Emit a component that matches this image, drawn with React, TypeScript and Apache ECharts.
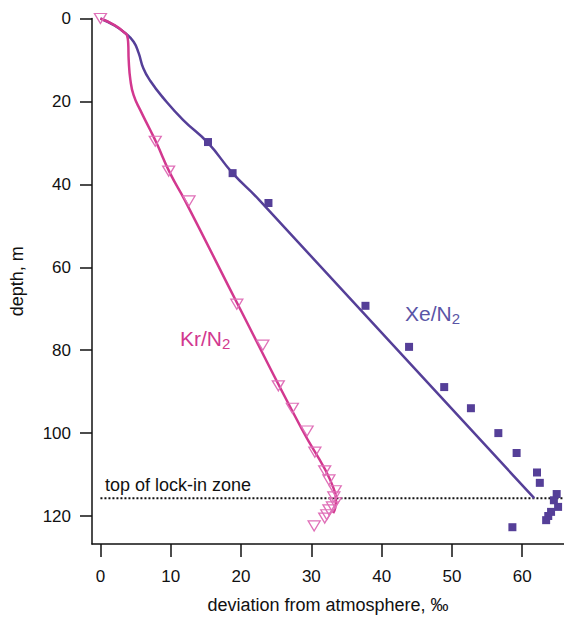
import React, { useEffect, useRef } from "react";
import * as echarts from "echarts";

// Model curves [deviation ‰, depth m]
const xeLine: number[][] = [
  [0, 0], [2, 1.7], [3.55, 3.57], [4.72, 5.6], [5.43, 8.3], [6.1, 12.0], [7.08, 15.0],
  [8.96, 19.2], [11.78, 24.5], [15.3, 30], [18.8, 37.3], [22.6, 43.8], [61.7, 115.7],
];
const krLine: number[][] = [
  [0, 0], [2, 1.6], [3.55, 3.57], [3.78, 4.0], [3.95, 6.0], [4.02, 10], [4.26, 14.8],
  [4.72, 18.5], [5.67, 22.1], [7.08, 26.9], [8.0, 30.1], [9.9, 37.3], [12.0, 43.8],
  [20, 70.5], [28.7, 99.2], [32, 108.9], [33.2, 113.5], [33.5, 116], [33.4, 118], [33.1, 119.3],
];
// Measurements
const xeData: number[][] = [
  [15.3, 29.8], [18.8, 37.3], [23.9, 44.5], [37.7, 69.3], [43.9, 79.2], [48.9, 88.9],
  [52.7, 94], [56.6, 100], [59.2, 104.8], [62.1, 109.5], [62.5, 112], [64.9, 114.7],
  [64.5, 116.2], [65.1, 117.8], [64.1, 119], [63.7, 120], [63.4, 121], [58.6, 122.7],
];
const krData: number[][] = [
  [0, 0], [7.8, 29.6], [9.7, 36.8], [12.6, 44], [19.4, 68.9], [23.1, 78.8], [25.3, 88.6],
  [27.3, 94], [29.4, 99.5], [30.5, 104.6], [31.9, 109.1], [32.5, 111.3], [33.4, 113.9],
  [33.2, 115.4], [33.4, 116.8], [33.0, 117.8], [32.5, 118.5], [32.2, 119.7], [31.9, 120.5],
  [30.4, 122.4],
];
const lockInDepth = 115.7;
const xTicks = [0, 10, 20, 30, 40, 50, 60];
const yTicks = [0, 20, 40, 60, 80, 100, 120];

const XE = "#553f98";
const KR = "#d2388f";
const KR_PT = "#e070b8";
const FONT = "Liberation Sans, Arial, Helvetica, sans-serif";

export default function App() {
  const ref = useRef<HTMLDivElement>(null);
  useEffect(() => {
    if (!ref.current) return;
    const chart = echarts.init(ref.current, undefined, { renderer: "svg" });
    chart.setOption({
      animation: false,
      backgroundColor: "#fff",
      textStyle: { fontFamily: FONT },
      grid: { left: 88, right: 0, top: 18.5, bottom: 75, containLabel: false },
      xAxis: {
        type: "value",
        min: -1.2,
        max: 65.94,
        name: "deviation from atmosphere, ‰",
        nameLocation: "middle",
        nameGap: 52,
        nameTextStyle: { fontSize: 18, color: "#111", fontFamily: FONT },
        axisLine: { show: true, onZero: false, lineStyle: { color: "#111", width: 1.5 } },
        axisTick: { show: true, length: 13, customValues: xTicks, lineStyle: { color: "#111", width: 1.5 } },
        axisLabel: { customValues: xTicks, margin: 24, fontSize: 17, color: "#111", fontFamily: FONT },
        splitLine: { show: false },
      },
      yAxis: {
        type: "value",
        inverse: true,
        min: 0,
        max: 126.75,
        name: "depth, m",
        nameLocation: "middle",
        nameGap: 66,
        nameRotate: 90,
        nameTextStyle: { fontSize: 18, color: "#111", fontFamily: FONT },
        axisLine: { show: true, onZero: false, lineStyle: { color: "#111", width: 1.5 } },
        axisTick: { show: true, length: 12, customValues: yTicks, lineStyle: { color: "#111", width: 1.5 } },
        axisLabel: { customValues: yTicks, margin: 21, fontSize: 17, color: "#111", fontFamily: FONT },
        splitLine: { show: false },
      },
      series: [
        {
          type: "line",
          data: [[0, lockInDepth], [70, lockInDepth]],
          showSymbol: false,
          silent: true,
          lineStyle: { color: "#111", width: 2, type: [2, 2] },
          z: 1,
        },
        {
          type: "line",
          data: xeLine,
          showSymbol: false,
          smooth: 0.5,
          lineStyle: { color: XE, width: 2.5 },
          z: 2,
        },
        {
          type: "line",
          data: krLine,
          showSymbol: false,
          smooth: 0.5,
          lineStyle: { color: KR, width: 2.5 },
          z: 3,
        },
        {
          type: "scatter",
          data: xeData,
          symbol: "rect",
          symbolSize: 8,
          itemStyle: { color: XE, opacity: 1 },
          z: 4,
        },
        {
          type: "scatter",
          data: krData,
          symbol: "triangle",
          symbolRotate: 180,
          symbolSize: [12, 10],
          itemStyle: { color: "rgba(255,255,255,0)", borderColor: KR_PT, borderWidth: 1.3, opacity: 1 },
          z: 5,
        },
      ],
      graphic: [
        {
          type: "text",
          left: 105,
          top: 476,
          style: { text: "top of lock-in zone", fontSize: 18, fill: "#111", fontFamily: FONT },
        },
        {
          type: "text",
          left: 180,
          top: 328,
          style: {
            text: "{a|Kr/N}{b|2}",
            fill: KR,
            rich: {
              a: { fontSize: 21, fill: KR, fontFamily: FONT },
              b: { fontSize: 15, fill: KR, fontFamily: FONT, padding: [10, 0, 0, 0] },
            },
          },
        },
        {
          type: "text",
          left: 405,
          top: 303,
          style: {
            text: "{a|Xe/N}{b|2}",
            fill: "#5a55a6",
            rich: {
              a: { fontSize: 21, fill: "#5a55a6", fontFamily: FONT },
              b: { fontSize: 15, fill: "#5a55a6", fontFamily: FONT, padding: [10, 0, 0, 0] },
            },
          },
        },
      ],
    });
    return () => chart.dispose();
  }, []);
  return <div ref={ref} style={{ width: 564, height: 619, position: "absolute", left: 0, top: 0 }} />;
}
